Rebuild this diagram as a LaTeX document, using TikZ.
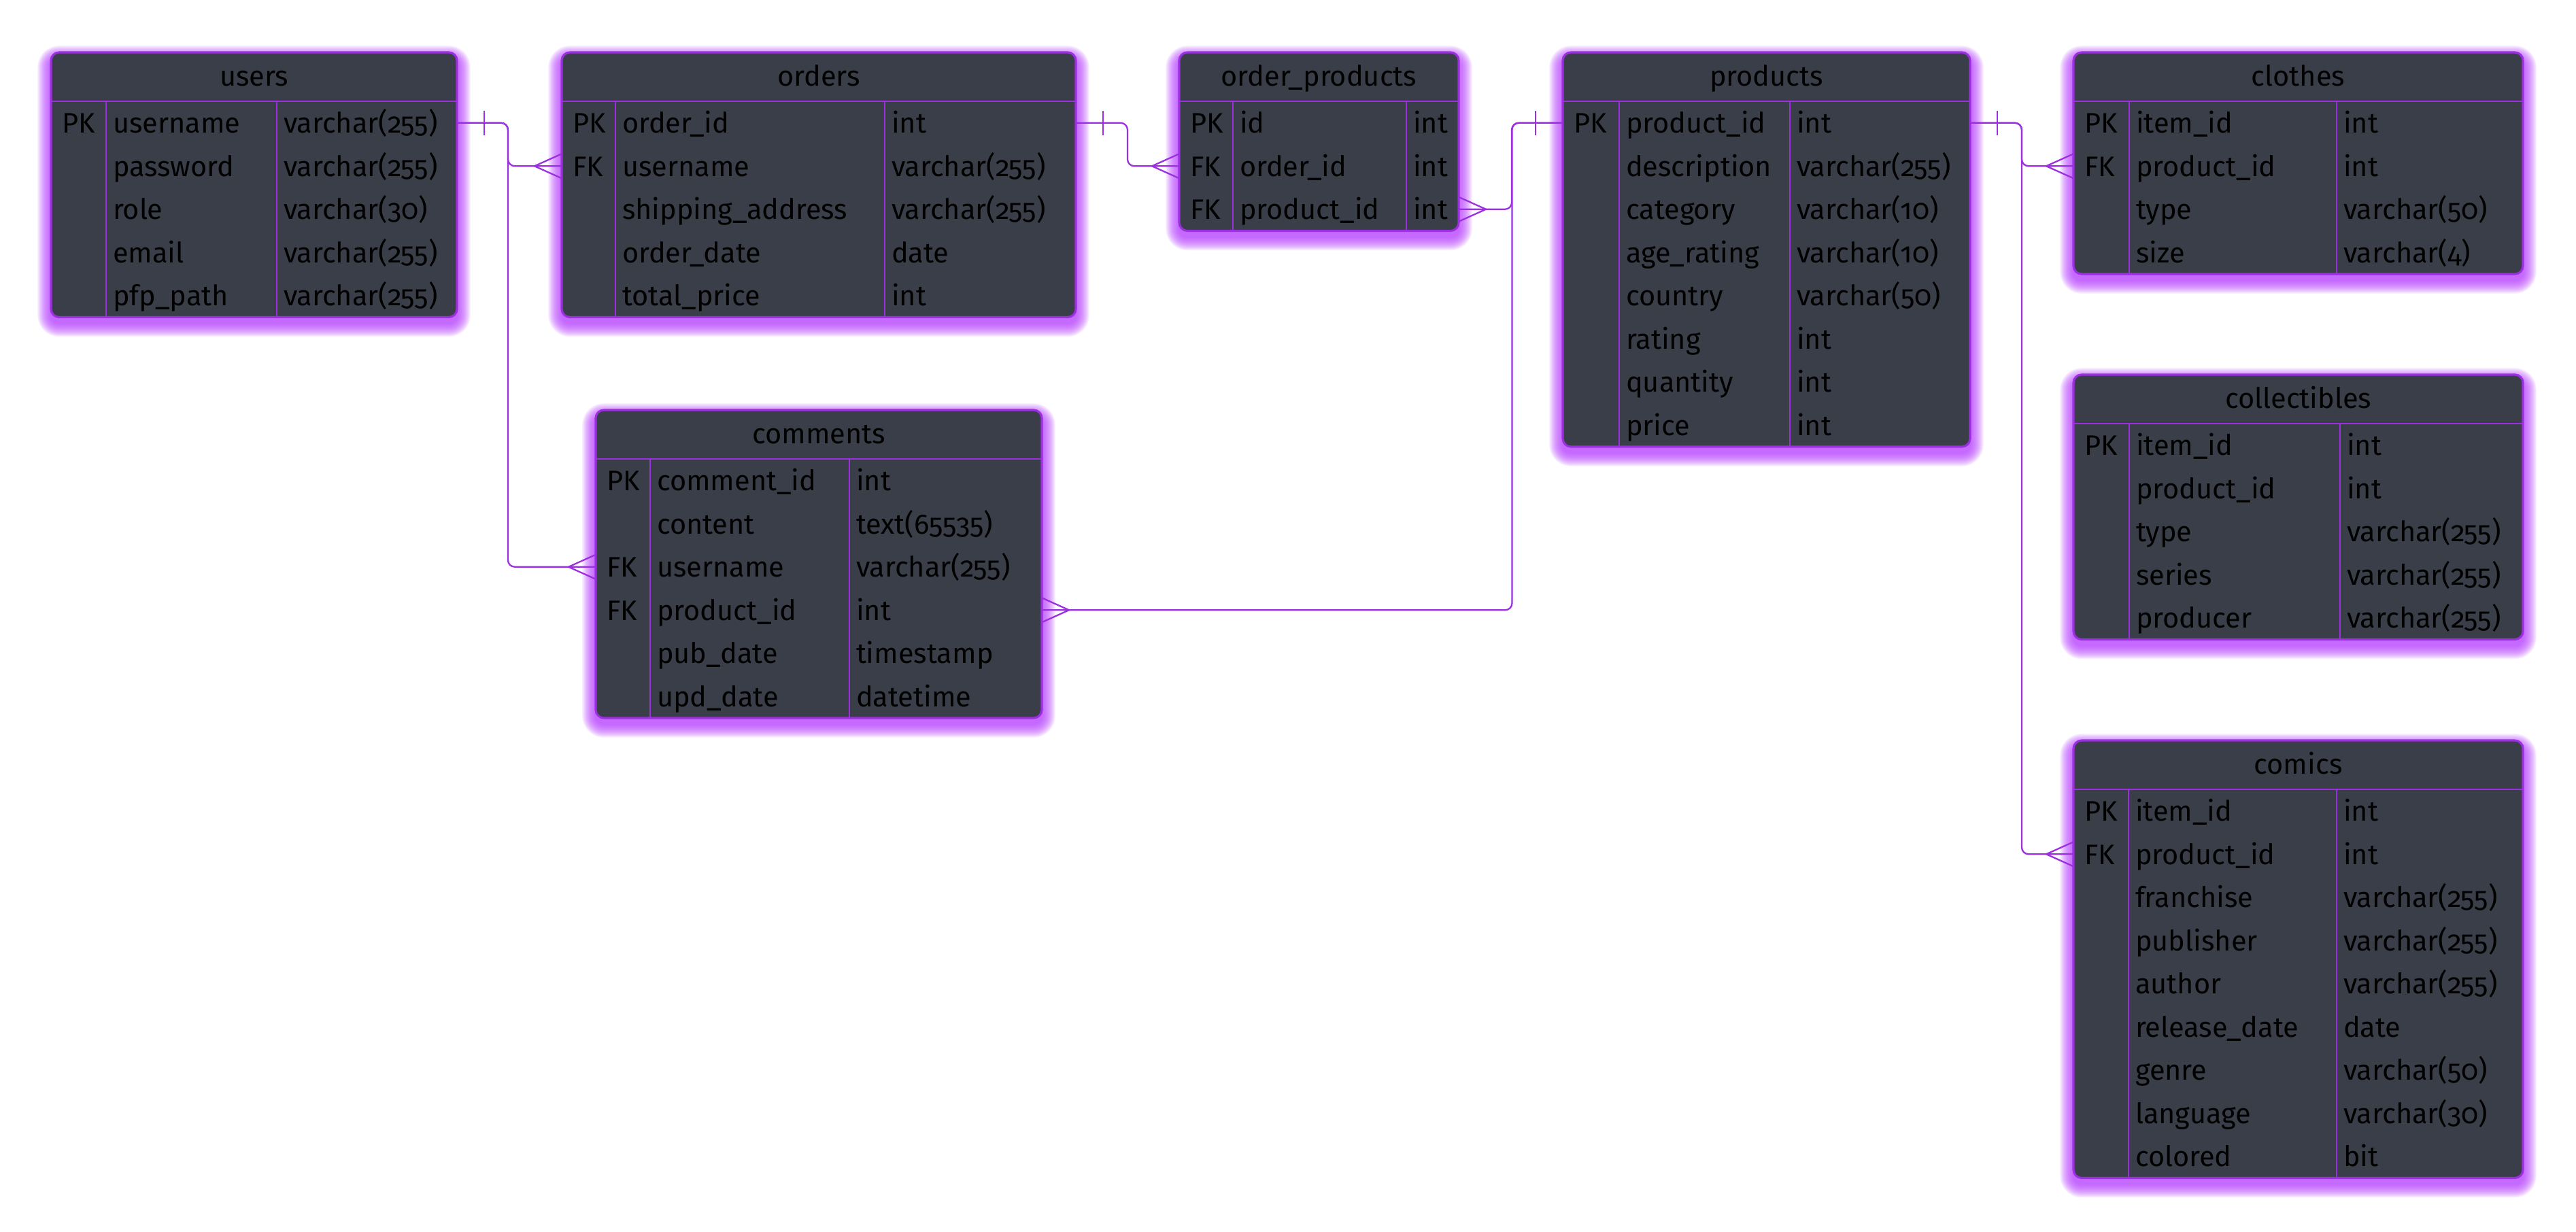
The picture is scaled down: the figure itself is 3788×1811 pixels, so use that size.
\documentclass[tikz,border=0pt]{standalone}
\usepackage{fontspec}
\setmainfont{Fira Sans}[Numbers=OldStyle]
\usetikzlibrary{calc}

\definecolor{erdline}{RGB}{156,47,224}
\definecolor{erdglow}{RGB}{188,68,255}
\definecolor{erdfill}{RGB}{57,62,72}

\tikzset{
  tablebox/.style={draw=erdline, line width=0.9pt, fill=erdfill, rounded corners=0.12cm, inner sep=0pt, outer sep=0pt},
  rowslot/.style={inner sep=0pt, outer sep=0pt},
  celltext/.style={inner sep=0pt, outer sep=0pt, text=black, font=\fontsize{11.8pt}{13.5pt}\selectfont},
  titletext/.style={celltext},
  divline/.style={draw=erdline, line width=0.6pt},
  conn/.style={draw=erdline, line width=0.65pt, rounded corners=0.1cm},
  crowline/.style={draw=erdline, line width=0.65pt},
  glowlayer/.style={fill=erdglow, opacity=0.08},
}

% #1 id, #2 title, #3 left, #4 top, #5 key col, #6 name col, #7 type col, #8 rows, #9 fields
\newcommand{\erdtable}[9]{%
  \pgfmathsetmacro{\tabw}{#5+#6+#7}%
  \pgfmathsetmacro{\tabh}{72+63.5*#8}%
  \foreach \gl in {18,17,...,1}{%
    \pgfmathsetmacro{\glr}{0.12+0.011*\gl}%
    \fill[glowlayer, rounded corners=\glr cm] (#3-1.1*\gl, #4+10-1.1*\gl) rectangle (#3+\tabw+1.1*\gl, #4+9+\tabh+1.1*\gl);
  }%
  \node[tablebox, anchor=north west, minimum width=\tabw*0.01cm, minimum height=\tabh*0.01cm] (#1) at (#3,#4) {};
  \draw[divline] (#3,#4+72) -- (#3+\tabw,#4+72);
  \draw[divline] (#3+#5,#4+72) -- (#3+#5,#4+\tabh);
  \draw[divline] (#3+#5+#6,#4+72) -- (#3+#5+#6,#4+\tabh);
  \node[titletext, anchor=base] (#1-title) at (#3+\tabw/2,#4+49) {#2};
  \foreach \colk/\coln/\colt [count=\ri] in {#9}{%
    \pgfmathsetmacro{\yc}{#4+72+63.5*(\ri-0.5)}%
    \node[rowslot, anchor=west, minimum width=\tabw*0.01cm, minimum height=0.635cm] (#1-r\ri) at (#3,\yc) {};
    \node[celltext, anchor=base west] (#1-k\ri) at (#3+16,\yc+15) {\colk};
    \node[celltext, anchor=base west] (#1-n\ri) at (#3+#5+10,\yc+15) {\coln};
    \node[celltext, anchor=base west] (#1-t\ri) at (#3+#5+#6+10,\yc+15) {\colt};
  }%
}

% one-side bar crossing a connector, #2 = +1 (right of anchor) or -1 (left)
\newcommand{\onetick}[2]{%
  \draw[crowline] ([xshift=#2*0.40cm, yshift=0.18cm]#1) -- ([xshift=#2*0.40cm, yshift=-0.18cm]#1);}
% many-side crow's foot opening onto the table edge
\newcommand{\crowfoot}[2]{%
  \draw[crowline] ([yshift=0.18cm]#1) -- ([xshift=#2*0.40cm]#1) -- ([yshift=-0.18cm]#1);}

\begin{document}
\begin{tikzpicture}[x=0.01cm, y=-0.01cm]
\fill[white] (0,0) rectangle (3788,1811);
\useasboundingbox (0,0) rectangle (3788,1811);

\erdtable{users}{users}{75}{77}{81}{251}{265}{5}{%
  PK/username/varchar(255), {}/password/varchar(255), {}/role/varchar(30),
  {}/email/varchar(255), {}/pfp\_path/varchar(255)}

\erdtable{orders}{orders}{826}{77}{79}{396}{281}{5}{%
  PK/order\_id/int, FK/username/varchar(255), {}/shipping\_address/varchar(255),
  {}/order\_date/date, {}/total\_price/int}

\erdtable{orderproducts}{order\_products}{1734}{77}{79}{255}{77}{3}{%
  PK/id/int, FK/order\_id/int, FK/product\_id/int}

\erdtable{products}{products}{2298}{77}{83}{251}{265}{8}{%
  PK/product\_id/int, {}/description/varchar(255), {}/category/varchar(10),
  {}/age\_rating/varchar(10), {}/country/varchar(50), {}/rating/int,
  {}/quantity/int, {}/price/int}

\erdtable{clothes}{clothes}{3049}{77}{82}{305}{274}{4}{%
  PK/item\_id/int, FK/product\_id/int, {}/type/varchar(50), {}/size/varchar(4)}

\erdtable{collectibles}{collectibles}{3049}{551}{82}{310}{269}{5}{%
  PK/item\_id/int, {}/product\_id/int, {}/type/varchar(255),
  {}/series/varchar(255), {}/producer/varchar(255)}

\erdtable{comics}{comics}{3049}{1089}{81}{306}{274}{9}{%
  PK/item\_id/int, FK/product\_id/int, {}/franchise/varchar(255),
  {}/publisher/varchar(255), {}/author/varchar(255), {}/release\_date/date,
  {}/genre/varchar(50), {}/language/varchar(30), {}/colored/bit}

\erdtable{comments}{comments}{876}{603}{80}{293}{283}{6}{%
  PK/comment\_id/int, {}/content/text(65535), FK/username/varchar(255),
  FK/product\_id/int, {}/pub\_date/timestamp, {}/upd\_date/datetime}

% relationships
\draw[conn] (users-r1.east) -| ([xshift=-0.79cm]orders-r2.west) -- (orders-r2.west);
\draw[conn] (users-r1.east) -| ([xshift=-1.29cm]comments-r3.west) -- (comments-r3.west);
\draw[conn] (orders-r1.east) -| ([xshift=-0.76cm]orderproducts-r2.west) -- (orderproducts-r2.west);
\draw[conn] (products-r1.west) -| ([xshift=0.78cm]orderproducts-r3.east) -- (orderproducts-r3.east);
\draw[conn] (products-r1.west) -| ([xshift=6.91cm]comments-r4.east) -- (comments-r4.east);
\draw[conn] (products-r1.east) -| ([xshift=-0.76cm]clothes-r2.west) -- (clothes-r2.west);
\draw[conn] (products-r1.east) -| ([xshift=-0.76cm]comics-r2.west) -- (comics-r2.west);

\onetick{users-r1.east}{1}
\onetick{orders-r1.east}{1}
\onetick{products-r1.west}{-1}
\onetick{products-r1.east}{1}

\crowfoot{orders-r2.west}{-1}
\crowfoot{comments-r3.west}{-1}
\crowfoot{orderproducts-r2.west}{-1}
\crowfoot{orderproducts-r3.east}{1}
\crowfoot{comments-r4.east}{1}
\crowfoot{clothes-r2.west}{-1}
\crowfoot{comics-r2.west}{-1}
\end{tikzpicture}
\end{document}
